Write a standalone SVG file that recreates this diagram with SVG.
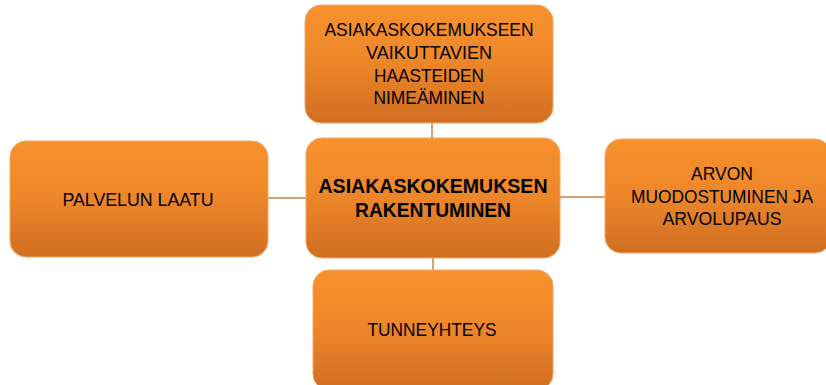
<svg xmlns="http://www.w3.org/2000/svg" width="826" height="385" viewBox="0 0 826 385">
  <defs>
    <linearGradient id="orange" x1="0" y1="0" x2="0" y2="1">
      <stop offset="0" stop-color="#F8922E"/>
      <stop offset="0.5" stop-color="#EC8629"/>
      <stop offset="1" stop-color="#D06E22"/>
    </linearGradient>
    <style>
      .box { fill: url(#orange); stroke: #F3A765; stroke-width: 1; }
      .link { stroke: #C97F48; stroke-width: 1.5; fill: none; }
      .lbl { font-family: "Liberation Sans Narrow", "Arial Narrow", "Liberation Sans", sans-serif; font-size: 18.5px; fill: #000; text-anchor: middle; }
      .main { font-weight: bold; font-size: 20.5px; }
    </style>
  </defs>

  <g id="connectors">
    <line class="link" x1="432" y1="123" x2="432" y2="138"/>
    <line class="link" x1="268" y1="198" x2="306" y2="198"/>
    <line class="link" x1="560" y1="197" x2="605" y2="197"/>
    <line class="link" x1="433" y1="258" x2="433" y2="270"/>
  </g>

  <g id="node-haasteet">
    <rect class="box" x="305" y="5" width="248" height="118" rx="16"/>
    <text class="lbl" x="429" y="36" textLength="209" lengthAdjust="spacingAndGlyphs">ASIAKASKOKEMUKSEEN</text>
    <text class="lbl" x="429" y="59" textLength="126" lengthAdjust="spacingAndGlyphs">VAIKUTTAVIEN</text>
    <text class="lbl" x="429" y="82" textLength="110" lengthAdjust="spacingAndGlyphs">HAASTEIDEN</text>
    <text class="lbl" x="429" y="104" textLength="111" lengthAdjust="spacingAndGlyphs">NIMEÄMINEN</text>
  </g>

  <g id="node-rakentuminen">
    <rect class="box" x="306" y="138" width="254" height="120" rx="16"/>
    <text class="lbl main" x="433" y="193" textLength="229" lengthAdjust="spacingAndGlyphs">ASIAKASKOKEMUKSEN</text>
    <text class="lbl main" x="433" y="217" textLength="156" lengthAdjust="spacingAndGlyphs">RAKENTUMINEN</text>
  </g>

  <g id="node-palvelu">
    <rect class="box" x="10" y="141" width="258" height="116" rx="16"/>
    <text class="lbl" x="138" y="206" textLength="151" lengthAdjust="spacingAndGlyphs">PALVELUN LAATU</text>
  </g>

  <g id="node-arvo">
    <rect class="box" x="605" y="139" width="226" height="114" rx="16"/>
    <text class="lbl" x="722" y="180" textLength="62" lengthAdjust="spacingAndGlyphs">ARVON</text>
    <text class="lbl" x="722" y="203" textLength="182" lengthAdjust="spacingAndGlyphs">MUODOSTUMINEN JA</text>
    <text class="lbl" x="722" y="225" textLength="119" lengthAdjust="spacingAndGlyphs">ARVOLUPAUS</text>
  </g>

  <g id="node-tunne">
    <rect class="box" x="313" y="270" width="240" height="120" rx="16"/>
    <text class="lbl" x="432" y="336" textLength="129" lengthAdjust="spacingAndGlyphs">TUNNEYHTEYS</text>
  </g>
</svg>
